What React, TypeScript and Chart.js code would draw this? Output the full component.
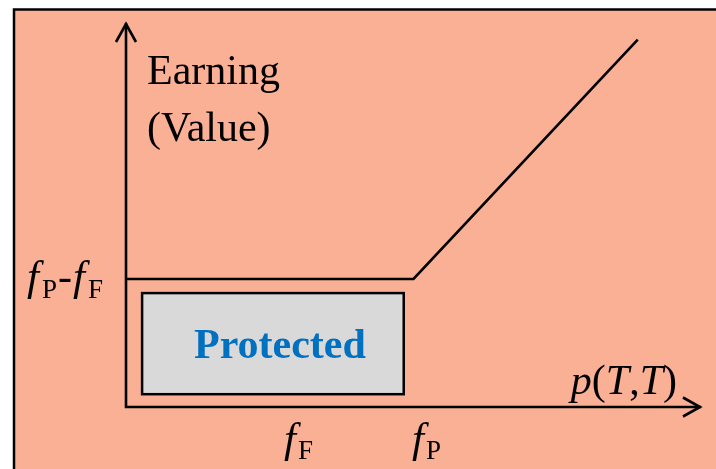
import React, { useEffect, useRef } from "react";
import { Chart, registerables } from "chart.js";

Chart.register(...registerables);

// Data (abstract units)
const payoffX = [0, 5, 8.9];
const payoffY = [1, 1, 2.87];
const protectedBoxX = [0.28, 4.83];
const protectedBoxY = [0.1, 0.89];
const fF = 3;
const fP = 5;
const level = 1;
const xAxisMax = 10;
const yAxisMax = 3;
const yLabelLines = ["Earning", "(Value)"];
const protectedLabel = "Protected";

const SERIF = '"Liberation Serif", "Times New Roman", serif';
const SALMON = "#F9B095";

const decorPlugin = {
  id: "decor",
  beforeDraw(chart: any) {
    const ctx = chart.ctx as CanvasRenderingContext2D;
    ctx.save();
    ctx.fillStyle = "#ffffff";
    ctx.fillRect(0, 0, chart.width, chart.height);
    ctx.fillStyle = SALMON;
    ctx.fillRect(14, 9, chart.width, chart.height);
    ctx.strokeStyle = "#000";
    ctx.lineWidth = 2.5;
    ctx.beginPath();
    ctx.moveTo(14, chart.height + 5);
    ctx.lineTo(14, 9.5);
    ctx.lineTo(chart.width + 5, 9.5);
    ctx.stroke();

    const xs = chart.scales.x;
    const ys = chart.scales.y;
    // protected box
    const bx0 = xs.getPixelForValue(protectedBoxX[0]);
    const bx1 = xs.getPixelForValue(protectedBoxX[1]);
    const by0 = ys.getPixelForValue(protectedBoxY[0]);
    const by1 = ys.getPixelForValue(protectedBoxY[1]);
    ctx.fillStyle = "#D9D9D9";
    ctx.fillRect(bx0, by1, bx1 - bx0, by0 - by1);
    ctx.lineWidth = 2.5;
    ctx.strokeStyle = "#000";
    ctx.strokeRect(bx0, by1, bx1 - bx0, by0 - by1);
    ctx.fillStyle = "#0070C0";
    ctx.font = `bold 42px ${SERIF}`;
    ctx.textAlign = "center";
    ctx.textBaseline = "alphabetic";
    ctx.fillText(protectedLabel, (bx0 + bx1) / 2 + 7, by0 - 36);

    // axes
    const ox = xs.getPixelForValue(0);
    const oy = ys.getPixelForValue(0);
    const xEnd = xs.getPixelForValue(xAxisMax);
    const yEnd = ys.getPixelForValue(yAxisMax);
    ctx.lineWidth = 2.6;
    ctx.lineCap = "butt";
    ctx.beginPath();
    ctx.moveTo(ox, yEnd);
    ctx.lineTo(ox, oy);
    ctx.lineTo(xEnd, oy);
    ctx.stroke();
    ctx.lineJoin = "miter";
    ctx.beginPath();
    ctx.moveTo(ox - 10, yEnd + 19);
    ctx.lineTo(ox, yEnd + 1);
    ctx.lineTo(ox + 10, yEnd + 19);
    ctx.stroke();
    ctx.beginPath();
    ctx.moveTo(xEnd - 18, oy - 9.5);
    ctx.lineTo(xEnd - 1, oy);
    ctx.lineTo(xEnd - 18, oy + 9.5);
    ctx.stroke();

    // text labels
    ctx.fillStyle = "#000";
    ctx.textAlign = "left";
    ctx.font = `42px ${SERIF}`;
    ctx.fillText(yLabelLines[0], ox + 21, yEnd + 61);
    ctx.fillText(yLabelLines[1], ox + 21, yEnd + 118);

    const drawParts = (
      parts: [string, string, number, number?][],
      x: number,
      y: number,
      align: "left" | "right" | "center"
    ) => {
      let total = 0;
      for (const [t, f, , dx] of parts) {
        ctx.font = f;
        total += ctx.measureText(t).width + (dx || 0);
      }
      let cx = align === "left" ? x : align === "right" ? x - total : x - total / 2;
      for (const [t, f, dy, dx] of parts) {
        ctx.font = f;
        cx += dx || 0;
        ctx.fillText(t, cx, y + dy);
        cx += ctx.measureText(t).width;
      }
    };
    const fI = `italic 43px ${SERIF}`;
    const sub = `27px ${SERIF}`;
    const reg = `42px ${SERIF}`;
    const ly = ys.getPixelForValue(level);
    drawParts(
      [["f", fI, 0], ["P", sub, 8, 3], ["-", reg, 0, 1], ["f", fI, 0, 1], ["F", sub, 8, 3]],
      ox - 23, ly + 11, "right"
    );
    drawParts([["f", fI, 0], ["F", sub, 7, 2]], xs.getPixelForValue(fF), oy + 45, "center");
    drawParts([["f", fI, 0], ["P", sub, 7, 2]], xs.getPixelForValue(fP) + 13, oy + 45, "center");
    const it = `italic 42px ${SERIF}`;
    drawParts(
      [["p", it, 0], ["(", reg, 0], ["T", it, 0], [",", reg, 0], ["T", it, 0], [")", reg, 0]],
      xEnd - 24, oy - 13, "right"
    );
    ctx.restore();
  },
};

export default function App() {
  const ref = useRef<HTMLCanvasElement | null>(null);
  useEffect(() => {
    if (!ref.current) return;
    const chart = new Chart(ref.current, {
      type: "scatter",
      data: {
        datasets: [
          {
            data: payoffX.map((x, i) => ({ x, y: payoffY[i] })),
            showLine: true,
            borderColor: "#000",
            borderWidth: 2.6,
            pointRadius: 0,
            fill: false,
            tension: 0,
          },
        ],
      },
      options: {
        animation: false,
        responsive: false,
        devicePixelRatio: 1,
        layout: { padding: { left: 126, right: 15, top: 23, bottom: 62 } },
        plugins: { legend: { display: false }, tooltip: { enabled: false } },
        scales: {
          x: { type: "linear", min: 0, max: xAxisMax, display: false },
          y: { type: "linear", min: 0, max: yAxisMax, display: false },
        },
      },
      plugins: [decorPlugin],
    });
    return () => chart.destroy();
  }, []);
  return (
    <div style={{ position: "fixed", left: 0, top: 0, width: 716, height: 469 }}>
      <canvas ref={ref} width={716} height={469} style={{ display: "block" }} />
    </div>
  );
}
